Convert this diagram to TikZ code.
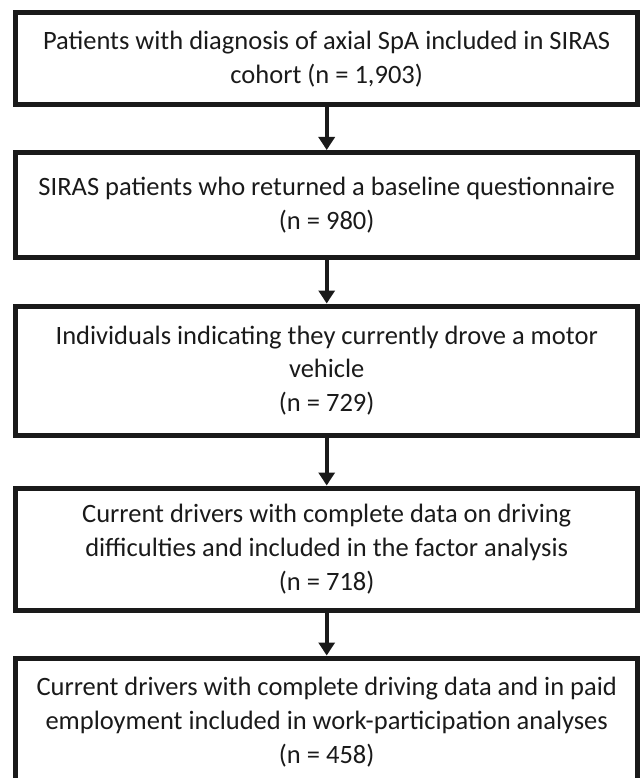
\documentclass[tikz,border=0pt]{standalone}
\usepackage{fontspec}
\setmainfont{Carlito}
\usetikzlibrary{arrows.meta}
\definecolor{ink}{HTML}{1A1A1A}
\begin{document}
\begin{tikzpicture}[x=1pt,y=-1pt,
  box/.style={draw=ink, text=ink, line width=5pt, minimum width=622pt, inner sep=0pt,
    align=center, font=\fontsize{26.5}{33.8}\selectfont},
  flow/.style={draw=ink, line width=4pt, -{Triangle[width=16pt,length=13pt]}}]
\useasboundingbox (0,0) rectangle (642,778);
\node[box, minimum height=92pt] (b1) at (326.7,59)
  {Patients with diagnosis of axial SpA included in SIRAS\\cohort (n = 1,903)};
\node[box, minimum height=104.5pt] (b2) at (326.7,204.75)
  {SIRAS patients who returned a baseline questionnaire\\(n = 980)};
\node[box, minimum height=129pt] (b3) at (326.7,370.5)
  {Individuals indicating they currently drove a motor\\vehicle\\(n = 729)};
\node[box, minimum height=122pt] (b4) at (326.7,549)
  {Current drivers with complete data on driving\\difficulties and included in the factor analysis\\(n = 718)};
\node[box, minimum height=128pt] (b5) at (326.7,722)
  {Current drivers with complete driving data and in paid\\employment included in work-participation analyses\\(n = 458)};
\draw[flow] (b1.south) -- (b2.north);
\draw[flow] (b2.south) -- (b3.north);
\draw[flow] (b3.south) -- (b4.north);
\draw[flow] (b4.south) -- (b5.north);
\end{tikzpicture}
\end{document}
